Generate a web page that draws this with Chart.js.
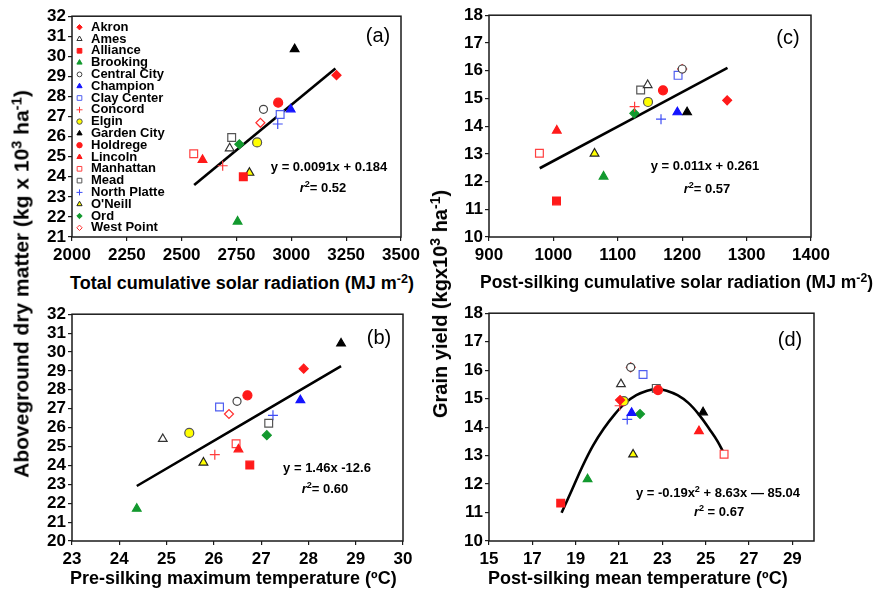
<!DOCTYPE html>
<html>
<head>
<meta charset="utf-8">
<script src="https://cdn.jsdelivr.net/npm/chart.js"></script>
<style>
  html, body { margin: 0; padding: 0; background: #fff; }
  #wrap { position: relative; width: 874px; height: 592px; overflow: hidden; font-family: 'Liberation Sans', Arial, sans-serif; color: #000; }
  canvas { position: absolute; }
  .txt { position: absolute; white-space: nowrap; line-height: 1; }
  .title { font-weight: bold; font-size: 18px; }
  .ytitle { transform: translate(-50%, -50%) rotate(-90deg); }
  .c { transform: translate(-50%, -50%); }
  .eq { font-weight: bold; font-size: 13px; }
  .tag { font-size: 20px; }
  sup { font-size: 0.7em; vertical-align: 0.5em; line-height: 0; }
</style>
</head>
<body>
<div id="wrap">
  <canvas id="chartA"></canvas>
  <canvas id="chartB"></canvas>
  <canvas id="chartC"></canvas>
  <canvas id="chartD"></canvas>

  <div class="txt title ytitle" style="left:21px; top:284px; font-size:21px">Aboveground dry matter (kg x 10<sup>3</sup> ha<sup>-1</sup>)</div>
  <div class="txt title ytitle" style="left:440px; top:304px; font-size:20px">Grain yield (kgx10<sup>3</sup> ha<sup>-1</sup>)</div>

  <div class="txt title" style="left:70px; top:274px">Total cumulative solar radiation (MJ m<sup>-2</sup>)</div>
  <div class="txt title" style="left:480px; top:274px; font-size:17.5px">Post-silking cumulative solar radiation (MJ m<sup>-2</sup>)</div>
  <div class="txt title" style="left:70px; top:569px">Pre-silking maximum temperature (ºC)</div>
  <div class="txt title" style="left:488px; top:569px">Post-silking mean temperature (ºC)</div>

  <div class="txt tag c" style="left:378px; top:35px">(a)</div>
  <div class="txt tag c" style="left:788px; top:37px">(c)</div>
  <div class="txt tag c" style="left:379px; top:337px">(b)</div>
  <div class="txt tag c" style="left:790px; top:339px">(d)</div>

  <div class="txt eq c" style="left:329px; top:166px">y = 0.0091x + 0.184</div>
  <div class="txt eq c" style="left:323px; top:187px"><i>r</i><sup>2</sup>= 0.52</div>
  <div class="txt eq c" style="left:705px; top:165px">y = 0.011x + 0.261</div>
  <div class="txt eq c" style="left:707px; top:188px"><i>r</i><sup>2</sup>= 0.57</div>
  <div class="txt eq c" style="left:327px; top:467px">y = 1.46x -12.6</div>
  <div class="txt eq c" style="left:325px; top:488px"><i>r</i><sup>2</sup>= 0.60</div>
  <div class="txt eq c" style="left:718px; top:492px">y = -0.19x<sup>2</sup> + 8.63x — 85.04</div>
  <div class="txt eq c" style="left:719px; top:511px"><i>r</i><sup>2</sup> = 0.67</div>
</div>
<script>
// sites, in legend order
const sites = ['Akron', 'Ames', 'Alliance', 'Brooking', 'Central City', 'Champion', 'Clay Center', 'Concord', 'Elgin',
  'Garden City', 'Holdrege', 'Lincoln', 'Manhattan', 'Mead', 'North Platte', "O'Neill", 'Ord', 'West Point'];

// (a) total cumulative solar radiation vs aboveground dry matter
const totalSolar = [3206, 2719, 2781, 2755, 2873, 2997, 2949, 2687, 2844, 3015, 2940, 2595, 2555, 2728, 2938, 2809, 2763, 2859];
const dryMatterA = [29.06, 25.42, 24.0, 21.77, 27.36, 27.36, 27.1, 24.55, 25.71, 30.36, 27.69, 24.84, 25.15, 25.96, 26.63, 24.2, 25.62, 26.69];

// (b) pre-silking maximum temperature vs aboveground dry matter
const preMaxTemp = [27.9, 24.92, 26.76, 24.37, 26.49, 27.83, 26.12, 26.02, 25.48, 28.69, 26.71, 26.52, 26.47, 27.16, 27.25, 25.78, 27.12, 26.32];
const dryMatterB = [29.12, 25.4, 24.02, 21.71, 27.39, 27.45, 27.09, 24.57, 25.72, 30.45, 27.71, 24.85, 25.15, 26.23, 26.65, 24.15, 25.6, 26.72];

// (c) post-silking cumulative solar radiation vs grain yield
const postSolar = [1269.8, 1146.4, 1004.8, 1077.9, 1200, 1192.5, 1193.6, 1126.1, 1146.9, 1207.6, 1170.2, 1005.3, 978.3, 1135.5, 1167.1, 1063.9, 1125.6, 1200];
const grainYieldC = [14.93, 15.48, 11.3, 12.18, 16.06, 14.5, 15.83, 14.7, 14.87, 14.5, 15.29, 13.84, 13.02, 15.3, 14.25, 13.01, 14.46, 16.06];

// (d) post-silking mean temperature vs grain yield
const postMeanTemp = [21.05, 21.09, 18.31, 19.55, 21.54, 21.58, 22.11, 21.03, 21.22, 24.88, 22.8, 24.69, 25.85, 22.72, 21.38, 21.65, 21.97, 21.54];
const grainYieldD = [14.95, 15.51, 11.33, 12.17, 16.1, 14.5, 15.85, 14.75, 14.91, 14.52, 15.3, 13.86, 13.05, 15.36, 14.27, 13.04, 14.46, 16.1];

// fitted lines
const fitA = [[2557, 23.59], [3201, 29.4]];
const fitB = [[24.37, 22.91], [28.69, 29.25]];
const fitC = [[978.8, 12.48], [1270.3, 16.1]];
const fitD = [[18.35, 10.99], [18.8, 11.75], [19.3, 12.6], [19.8, 13.35], [20.3, 13.95], [20.8, 14.45], [21.3, 14.85], [21.8, 15.12],
  [22.3, 15.28], [22.75, 15.33], [23.2, 15.28], [23.7, 15.12], [24.2, 14.85], [24.7, 14.43], [25.2, 13.9], [25.55, 13.5], [25.85, 13.07]];

// tick values
const ticksA = [2000, 2250, 2500, 2750, 3000, 3250, 3500];
const ticksB = [23, 24, 25, 26, 27, 28, 29, 30];
const ticksC = [900, 1000, 1100, 1200, 1300, 1400];
const ticksD = [15, 17, 19, 21, 23, 25, 27, 29];
const dmTicksA = [21, 22, 23, 24, 25, 26, 27, 28, 29, 30, 31, 32];
const dmTicksB = [20, 21, 22, 23, 24, 25, 26, 27, 28, 29, 30, 31, 32];
const yieldTicks = [10, 11, 12, 13, 14, 15, 16, 17, 18];

const RED = '#ff1a1a', GREEN = '#12992e', BLUE = '#1414ff', YEL = '#ffff00';
// marker per site: style, fill, stroke, radius
const markers = {
  'Akron':        { style: 'rectRot',  fill: RED,    stroke: RED,       r: 4.5 },
  'Ames':         { style: 'triangle', fill: '#fff', stroke: '#333',    r: 5 },
  'Alliance':     { style: 'rect',     fill: RED,    stroke: RED,       r: 5.5 },
  'Brooking':     { style: 'triangle', fill: GREEN,  stroke: GREEN,     r: 5 },
  'Central City': { style: 'circle',   fill: '#fff', stroke: '#444',    r: 4 },
  'Champion':     { style: 'triangle', fill: BLUE,   stroke: BLUE,      r: 5 },
  'Clay Center':  { style: 'rect',     fill: '#fff', stroke: '#4f5ef0', r: 5.5 },
  'Concord':      { style: 'cross',    fill: RED,    stroke: '#ff3b3b', r: 5 },
  'Elgin':        { style: 'circle',   fill: YEL,    stroke: '#555',    r: 4.5 },
  'Garden City':  { style: 'triangle', fill: '#000', stroke: '#000',    r: 5 },
  'Holdrege':     { style: 'circle',   fill: RED,    stroke: RED,       r: 4.5 },
  'Lincoln':      { style: 'triangle', fill: RED,    stroke: RED,       r: 5 },
  'Manhattan':    { style: 'rect',     fill: '#fff', stroke: '#ff4040', r: 5.5 },
  'Mead':         { style: 'rect',     fill: '#fff', stroke: '#555',    r: 5.5 },
  'North Platte': { style: 'cross',    fill: BLUE,   stroke: '#3d4cf5', r: 5 },
  "O'Neill":      { style: 'triangle', fill: YEL,    stroke: '#222',    r: 5 },
  'Ord':          { style: 'rectRot',  fill: GREEN,  stroke: GREEN,     r: 4.5 },
  'West Point':   { style: 'rectRot',  fill: '#fff', stroke: '#ff3030', r: 4.5 }
};

const FONT = "'Liberation Sans', Arial, sans-serif";

const framePlugin = {
  id: 'frame',
  beforeDatasetsDraw(chart) {
    const { ctx, chartArea: a } = chart;
    ctx.save();
    ctx.strokeStyle = '#1a1a1a';
    ctx.lineWidth = 1.5;
    ctx.strokeRect(a.left, a.top, a.right - a.left, a.bottom - a.top);
    ctx.restore();
  }
};

// legend drawn inside the plot of panel (a)
const siteLegend = {
  id: 'siteLegend',
  afterDatasetsDraw(chart, args, opts) {
    if (!opts.show) return;
    const { ctx, chartArea: a } = chart;
    ctx.save();
    ctx.font = 'bold 13px ' + FONT;
    ctx.textBaseline = 'middle';
    sites.forEach((name, i) => {
      const m = markers[name];
      const y = a.top + 11 + i * 11.8;
      ctx.fillStyle = m.fill;
      ctx.strokeStyle = m.stroke;
      ctx.lineWidth = 1;
      Chart.helpers.drawPoint(ctx, { pointStyle: m.style, radius: m.r * 0.6, rotation: 0, borderWidth: 1 }, a.left + 7.5, y);
      ctx.fillStyle = '#000';
      ctx.fillText(name, a.left + 19, y);
    });
    ctx.restore();
  }
};

function axis(min, max, ticks, fixed, horizontal) {
  return {
    type: 'linear', min, max,
    afterBuildTicks: s => { s.ticks = ticks.map(v => ({ value: v })); },
    afterFit: s => { if (horizontal) s.height = fixed; else s.width = fixed; },
    grid: { drawOnChartArea: false, tickLength: 4, color: '#1a1a1a', lineWidth: 1.2 },
    border: { display: false },
    ticks: { color: '#000', font: { family: FONT, size: 17, weight: 'bold' }, padding: horizontal ? 4 : 2, autoSkip: false, maxRotation: 0, callback: v => String(v) }
  };
}

function makePanel(id, rect, xVals, yVals, fit, xTicks, yTicks, withLegend) {
  const canvas = document.getElementById(id);
  const padL = 45, padT = 12, padR = 24, padB = 34;
  canvas.width = rect.right - rect.left + padL + padR;
  canvas.height = rect.bottom - rect.top + padT + padB;
  canvas.style.left = (rect.left - padL) + 'px';
  canvas.style.top = (rect.top - padT) + 'px';

  const datasets = sites.map((name, i) => {
    const m = markers[name];
    return {
      label: name,
      data: [{ x: xVals[i], y: yVals[i] }],
      pointStyle: m.style,
      pointRadius: m.r,
      backgroundColor: m.fill,
      borderColor: m.stroke,
      borderWidth: 1.2,
      order: 0
    };
  });
  datasets.push({
    label: 'fit',
    data: fit.map(([x, y]) => ({ x, y })),
    showLine: true,
    pointRadius: 0,
    borderColor: '#000',
    borderWidth: 2.6,
    tension: 0.4,
    order: 1
  });

  new Chart(canvas, {
    type: 'scatter',
    data: { datasets },
    options: {
      responsive: false,
      animation: false,
      events: [],
      layout: { padding: { left: 0, top: padT, right: padR, bottom: 0 } },
      scales: {
        x: axis(xTicks[0], rect.xMax, xTicks, padB, true),
        y: axis(yTicks[0], yTicks[yTicks.length - 1], yTicks, padL, false)
      },
      plugins: { legend: { display: false }, tooltip: { enabled: false }, siteLegend: { show: withLegend } }
    },
    plugins: [framePlugin, siteLegend]
  });
}

makePanel('chartA', { left: 72, top: 16, right: 401, bottom: 237, xMax: 3500 }, totalSolar, dryMatterA, fitA, ticksA, dmTicksA, true);
makePanel('chartB', { left: 72, top: 314, right: 403, bottom: 541, xMax: 30 }, preMaxTemp, dryMatterB, fitB, ticksB, dmTicksB, false);
makePanel('chartC', { left: 489, top: 15, right: 811, bottom: 237, xMax: 1400 }, postSolar, grainYieldC, fitC, ticksC, yieldTicks, false);
makePanel('chartD', { left: 489, top: 313, right: 814, bottom: 541, xMax: 30 }, postMeanTemp, grainYieldD, fitD, ticksD, yieldTicks, false);
</script>
</body>
</html>
